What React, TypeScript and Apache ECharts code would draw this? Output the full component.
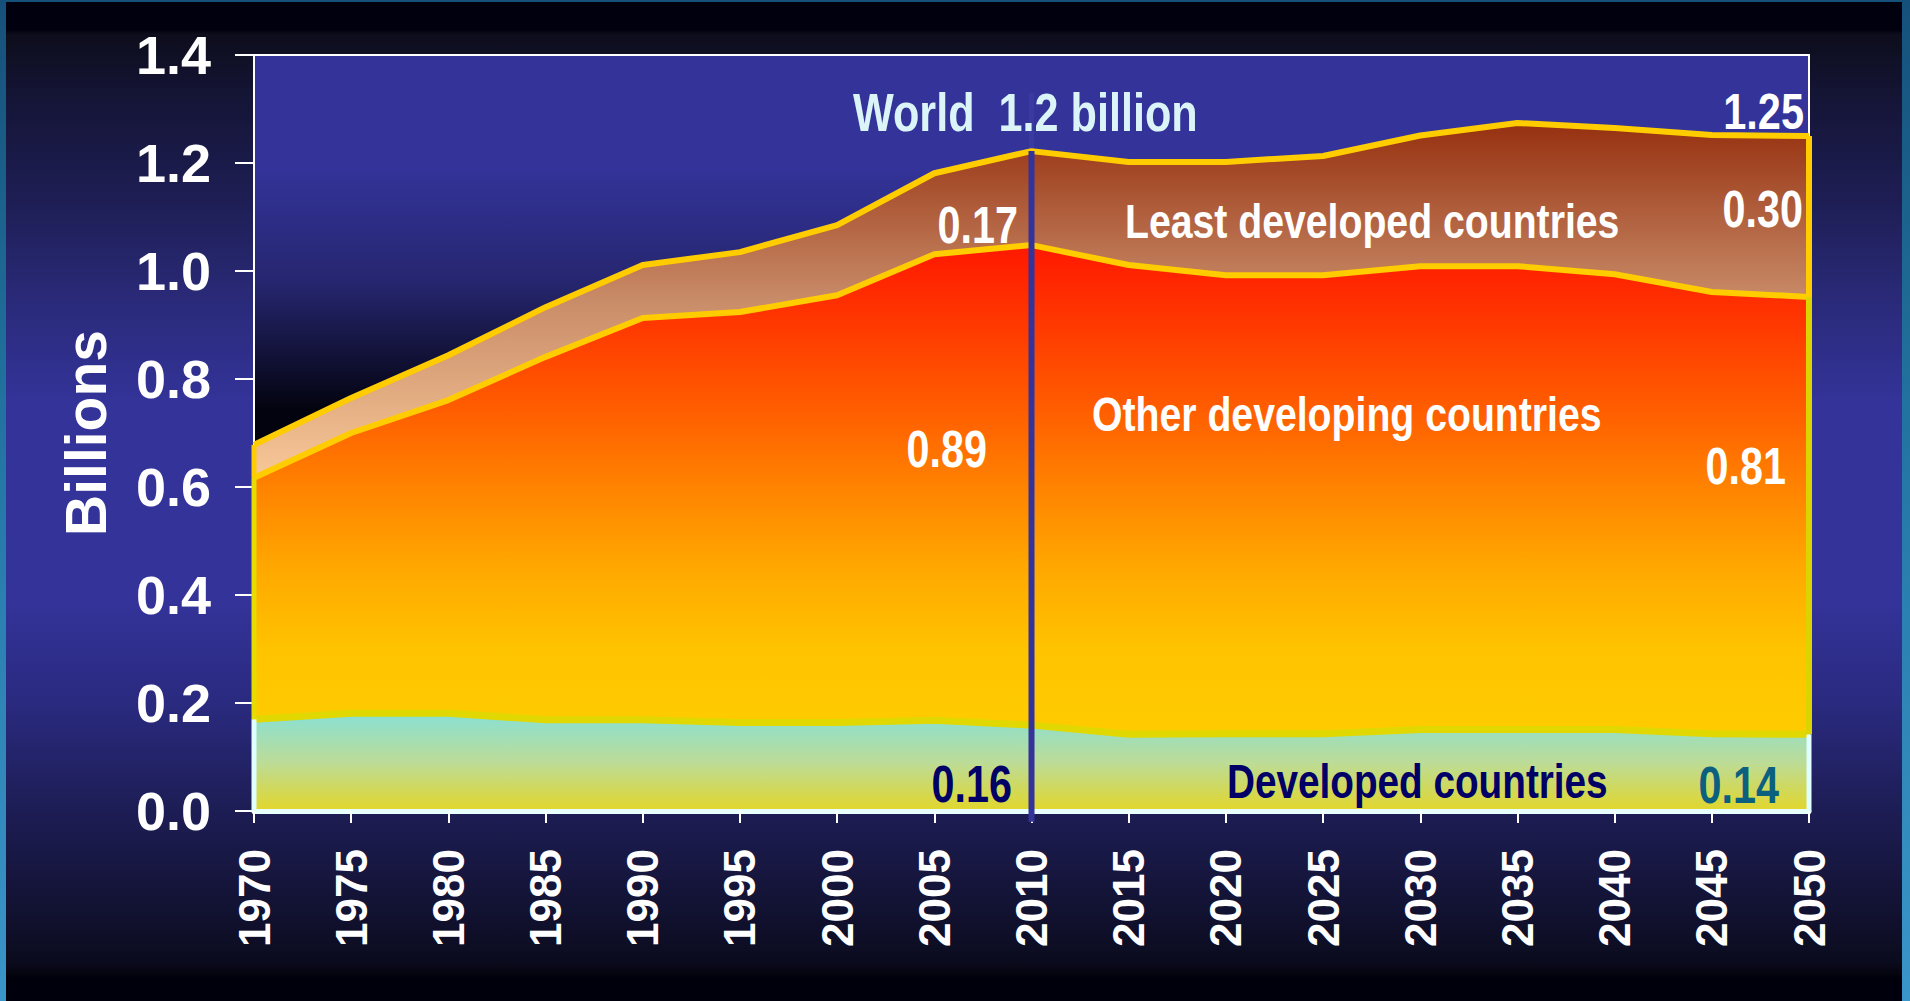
import React, { useEffect, useRef } from "react";
import * as echarts from "echarts";

const years = ["1970", "1975", "1980", "1985", "1990", "1995", "2000", "2005", "2010", "2015", "2020", "2025", "2030", "2035", "2040", "2045", "2050"];
const developed = [0.170, 0.181, 0.181, 0.169, 0.169, 0.164, 0.164, 0.168, 0.159, 0.142, 0.143, 0.143, 0.151, 0.151, 0.151, 0.143, 0.142];
const otherDeveloping = [0.447, 0.519, 0.580, 0.672, 0.744, 0.760, 0.791, 0.863, 0.889, 0.869, 0.849, 0.849, 0.858, 0.858, 0.843, 0.818, 0.810];
const leastDeveloped = [0.061, 0.065, 0.083, 0.092, 0.098, 0.111, 0.130, 0.150, 0.174, 0.191, 0.210, 0.221, 0.242, 0.265, 0.271, 0.291, 0.298];
const yMin = 0;
const yMax = 1.4;
const yStep = 0.2;

const FONT = "'Liberation Sans', Arial, 'DejaVu Sans', sans-serif";

export default function App() {
  const ref = useRef<HTMLDivElement>(null);

  useEffect(() => {
    if (!ref.current) return;
    const chart = echarts.init(ref.current, null, { renderer: "svg" });
    const n = years.length;
    const last = n - 1;
    const y0 = Number(years[0]);
    const yN = Number(years[last]);
    const devTop = developed.map((v) => v);
    const othTop = developed.map((v, i) => v + otherDeveloping[i]);
    const total = othTop.map((v, i) => v + leastDeveloped[i]);
    const midIdx = years.indexOf("2010");

    const edge = (x: number, a: number, b: number, color: string, width: number, z: number) => ({
      type: "line",
      xAxisIndex: 1,
      data: [[x, a], [x, b]],
      symbol: "none",
      silent: true,
      clip: false,
      z,
      lineStyle: { color, width, cap: "butt" },
    });

    const txt = (text: string, x: number, y: number, size: number, color: string, align: string, sx: number) => ({
      type: "text",
      x,
      y,
      scaleX: sx,
      scaleY: 1,
      z: 100,
      silent: true,
      style: {
        text,
        fill: color,
        font: `bold ${size}px ${FONT}`,
        align,
        textAlign: align,
        verticalAlign: "middle",
        textVerticalAlign: "middle",
      },
    });

    chart.setOption({
      animation: false,
      backgroundColor: "transparent",
      grid: {
        left: 254,
        right: 101,
        top: 55,
        bottom: 190,
        show: true,
        borderColor: "#ffffff",
        borderWidth: 2,
        backgroundColor: new echarts.graphic.LinearGradient(0, 0, 0, 1, [
          { offset: 0, color: "#333399" },
          { offset: 0.15, color: "#333399" },
          { offset: 0.3, color: "#262670" },
          { offset: 0.47, color: "#03030f" },
          { offset: 1, color: "#03030f" },
        ]),
      },
      xAxis: [
        {
          type: "category",
          data: years,
          boundaryGap: false,
          z: 5,
          axisLine: { lineStyle: { color: "#e8ffff", width: 5 } },
          axisTick: { show: true, length: 12, lineStyle: { color: "#ffffff", width: 2 } },
          axisLabel: {
            rotate: 90,
            margin: 38,
            color: "#ffffff",
            fontSize: 44,
            fontWeight: "bold",
            fontFamily: FONT,
            interval: 0,
          },
          splitLine: { show: false },
        },
        {
          type: "value",
          min: y0,
          max: yN,
          show: false,
        },
      ],
      yAxis: {
        type: "value",
        min: yMin,
        max: yMax,
        interval: yStep,
        name: "Billions",
        nameLocation: "middle",
        nameRotate: 90,
        nameGap: 140,
        nameTextStyle: { color: "#ffffff", fontSize: 57, fontWeight: "bold", fontFamily: FONT },
        axisLine: { show: true, lineStyle: { color: "#ffffff", width: 2 } },
        axisTick: { show: true, length: 19, lineStyle: { color: "#ffffff", width: 2 } },
        axisLabel: {
          margin: 43,
          color: "#ffffff",
          fontSize: 54,
          fontWeight: "bold",
          fontFamily: FONT,
          formatter: (v: number) => v.toFixed(1),
        },
        splitLine: { show: false },
      },
      series: [
        {
          name: "Developed countries",
          type: "line",
          stack: "total",
          data: developed,
          symbol: "none",
          z: 4,
          lineStyle: { color: "#e0d800", width: 7 },
          areaStyle: {
            opacity: 1,
            color: new echarts.graphic.LinearGradient(0, 0, 0, 1, [
              { offset: 0, color: "#88e0d4" },
              { offset: 0.5, color: "#bcdc98" },
              { offset: 1, color: "#e2d62a" },
            ]),
          },
        },
        {
          name: "Other developing countries",
          type: "line",
          stack: "total",
          data: otherDeveloping,
          symbol: "none",
          z: 3,
          lineStyle: { color: "#ffcc00", width: 6 },
          areaStyle: {
            opacity: 1,
            color: new echarts.graphic.LinearGradient(0, 0, 0, 1, [
              { offset: 0, color: "#ff1800" },
              { offset: 0.16, color: "#ff3800" },
              { offset: 0.33, color: "#ff5c00" },
              { offset: 0.5, color: "#ff8400" },
              { offset: 0.66, color: "#ffa800" },
              { offset: 0.83, color: "#ffc400" },
              { offset: 1, color: "#ffcc00" },
            ]),
          },
        },
        {
          name: "Least developed countries",
          type: "line",
          stack: "total",
          data: leastDeveloped,
          symbol: "none",
          z: 2,
          lineStyle: { color: "#ffcc00", width: 6 },
          areaStyle: {
            opacity: 1,
            color: new echarts.graphic.LinearGradient(0, 0, 0, 1, [
              { offset: 0, color: "#963010" },
              { offset: 0.5, color: "#c98c68" },
              { offset: 1, color: "#f8c898" },
            ]),
          },
        },
        edge(y0, 0, devTop[0], "#e0ffff", 5, 6),
        edge(yN, 0, devTop[last], "#e0ffff", 5, 6),
        edge(y0, devTop[0], othTop[0], "#e6dc00", 5, 6),
        edge(yN, devTop[last], othTop[last], "#dcd400", 6, 6),
        edge(y0, othTop[0], total[0], "#ffcc00", 5, 6),
        edge(yN, othTop[last], total[last], "#ffcc00", 6, 6),
        edge(Number(years[midIdx]), 1.33, total[midIdx], "#3a3aa2", 5, 1),
        edge(Number(years[midIdx]), -0.02, total[midIdx], "#333399", 6, 10),
      ],
      graphic: [
        txt("World  1.2 billion", 853, 112, 54, "#daf4f8", "left", 0.8),
        txt("1.25", 1804, 112, 50, "#ffffff", "right", 0.83),
        txt("0.17", 1018, 225, 51, "#ffffff", "right", 0.81),
        txt("Least developed countries", 1125, 221, 49, "#ffffff", "left", 0.8),
        txt("0.30", 1803, 209, 51, "#ffffff", "right", 0.81),
        txt("Other developing countries", 1092, 414, 49, "#ffffff", "left", 0.8),
        txt("0.89", 987, 449, 51, "#ffffff", "right", 0.81),
        txt("0.81", 1786, 466, 51, "#ffffff", "right", 0.81),
        txt("0.16", 1012, 784, 51, "#000066", "right", 0.81),
        txt("Developed countries", 1227, 781, 49, "#000066", "left", 0.79),
        txt("0.14", 1779, 785, 51, "#0b6080", "right", 0.81),
      ],
    });

    return () => chart.dispose();
  }, []);

  const strip = "linear-gradient(to bottom, #15507a 0%, #1e6a95 30%, #2a80b0 60%, #3a95c8 100%)";
  const inner =
    "linear-gradient(to bottom, #00000e 0px, #00000e 28px, #0d0d1c 32px, #151538 100px, #1e1e55 200px, #2a2a7a 300px, #333399 400px, #333399 600px, #2a2a80 700px, #1e1e58 800px, #131335 900px, #0b0b1e 960px, #05050f 972px, #00000c 976px, #00000c 1001px)";

  return (
    <div style={{ position: "fixed", left: 0, top: 0, width: 1910, height: 1001, background: strip, overflow: "hidden" }}>
      <div style={{ position: "absolute", left: 6, right: 8, top: 2, bottom: 0, background: inner }} />
      <div ref={ref} style={{ position: "absolute", left: 0, top: 0, width: 1910, height: 1001 }} />
    </div>
  );
}
